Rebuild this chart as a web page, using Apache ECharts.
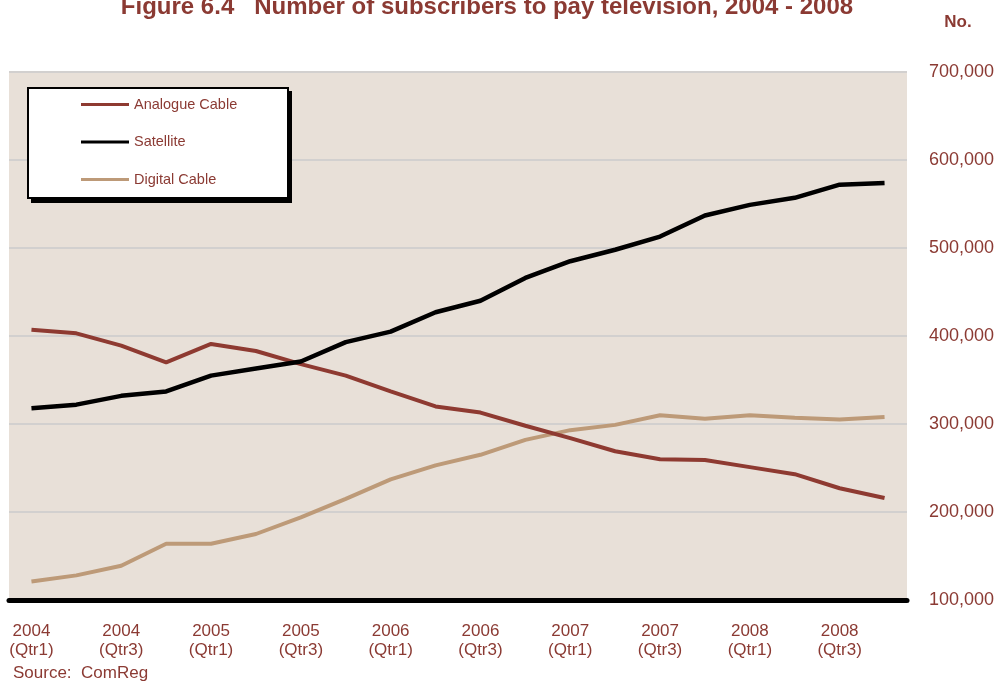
<!DOCTYPE html>
<html>
<head>
<meta charset="utf-8">
<script src="https://cdn.jsdelivr.net/npm/echarts@6/dist/echarts.min.js"></script>
<style>
  html, body { margin: 0; padding: 0; background: #ffffff; }
  #chart { width: 1000px; height: 684px; }
</style>
</head>
<body>
<div id="chart"></div>
<script>
// Quarterly pay-TV subscriber counts, 2004 Q1 – 2008 Q4
const quarters = [
  '2004\n(Qtr1)', '2004\n(Qtr2)', '2004\n(Qtr3)', '2004\n(Qtr4)',
  '2005\n(Qtr1)', '2005\n(Qtr2)', '2005\n(Qtr3)', '2005\n(Qtr4)',
  '2006\n(Qtr1)', '2006\n(Qtr2)', '2006\n(Qtr3)', '2006\n(Qtr4)',
  '2007\n(Qtr1)', '2007\n(Qtr2)', '2007\n(Qtr3)', '2007\n(Qtr4)',
  '2008\n(Qtr1)', '2008\n(Qtr2)', '2008\n(Qtr3)', '2008\n(Qtr4)'
];
const analogueCable = [
  407000, 403000, 389000, 370000, 391000, 383000, 368000, 355000,
  337000, 320000, 313000, 298000, 284000, 269000, 260000, 259000,
  251000, 243000, 227000, 216000
];
const satellite = [
  318000, 322000, 332000, 337000, 355000, 363000, 371000, 393000,
  405000, 427000, 440000, 466000, 485000, 498000, 513000, 537000,
  549000, 557000, 572000, 574000
];
const digitalCable = [
  121000, 128000, 139000, 164000, 164000, 175000, 194000, 215000,
  237000, 253000, 265000, 282000, 293000, 299000, 310000, 306000,
  310000, 307000, 305000, 308000
];
const yTicks = { min: 100000, max: 700000, step: 100000 };

const textRed = '#8b3a33';
const fontFamily = '"Liberation Sans", Arial, sans-serif';
const chart = echarts.init(document.getElementById('chart'), null, { renderer: 'canvas' });

chart.setOption({
  animation: false,
  backgroundColor: '#ffffff',
  textStyle: { fontFamily: fontFamily },
  graphic: [
    {
      type: 'text', z: 10,
      style: {
        text: 'Figure 6.4   Number of subscribers to pay television, 2004 - 2008',
        x: 487, y: 7, align: 'center', verticalAlign: 'middle',
        fill: textRed, font: 'bold 24px ' + fontFamily
      }
    },
    {
      type: 'text', z: 10,
      style: {
        text: 'No.', x: 958, y: 22, align: 'center', verticalAlign: 'middle',
        fill: textRed, font: 'bold 17px ' + fontFamily
      }
    },
    {
      type: 'text', z: 10,
      style: {
        text: 'Source:  ComReg', x: 13, y: 673, align: 'left', verticalAlign: 'middle',
        fill: textRed, font: '17px ' + fontFamily
      }
    },
    // legend frame: solid drop shadow, then white box with black border
    {
      type: 'rect', z: 20,
      shape: { x: 31, y: 91, width: 261, height: 112 },
      style: { fill: '#000000' }
    },
    {
      type: 'rect', z: 21,
      shape: { x: 28, y: 88, width: 260, height: 110 },
      style: { fill: '#ffffff', stroke: '#000000', lineWidth: 2 }
    }
  ],
  legend: {
    orient: 'vertical',
    left: 27, top: 87,
    z: 30,
    padding: [10, 20, 10, 54],
    itemGap: 22.5,
    itemWidth: 48,
    itemHeight: 3,
    icon: 'rect',
    backgroundColor: 'transparent',
    borderWidth: 0,
    textStyle: { color: textRed, fontSize: 14.5, fontFamily: fontFamily },
    data: ['Analogue Cable', 'Satellite', 'Digital Cable']
  },
  grid: {
    left: 9, right: 93, top: 72, bottom: 84,
    show: true, backgroundColor: '#e8e0d8', borderWidth: 0
  },
  xAxis: {
    type: 'category',
    data: quarters,
    boundaryGap: true,
    axisLine: { show: true, lineStyle: { color: '#000000', width: 5 } },
    axisTick: { show: false },
    axisLabel: {
      interval: 1,
      color: textRed,
      fontSize: 17,
      lineHeight: 19,
      margin: 22,
      fontFamily: fontFamily
    },
    splitLine: { show: false }
  },
  yAxis: {
    type: 'value',
    position: 'right',
    min: yTicks.min, max: yTicks.max, interval: yTicks.step,
    axisLine: { show: false },
    axisTick: { show: false },
    axisLabel: {
      color: textRed,
      fontSize: 18,
      margin: 22,
      fontFamily: fontFamily,
      formatter: v => v.toLocaleString('en-US')
    },
    splitLine: { show: true, lineStyle: { color: '#d2d0cf', width: 2 } }
  },
  series: [
    {
      name: 'Analogue Cable', type: 'line', data: analogueCable,
      symbol: 'none', z: 3,
      itemStyle: { color: '#8e3a31' },
      lineStyle: { color: '#8e3a31', width: 4 }
    },
    {
      name: 'Satellite', type: 'line', data: satellite,
      symbol: 'none', z: 4,
      itemStyle: { color: '#000000' },
      lineStyle: { color: '#000000', width: 4.5 }
    },
    {
      name: 'Digital Cable', type: 'line', data: digitalCable,
      symbol: 'none', z: 2,
      itemStyle: { color: '#bd9a78' },
      lineStyle: { color: '#bd9a78', width: 4 }
    }
  ]
});
</script>
</body>
</html>
